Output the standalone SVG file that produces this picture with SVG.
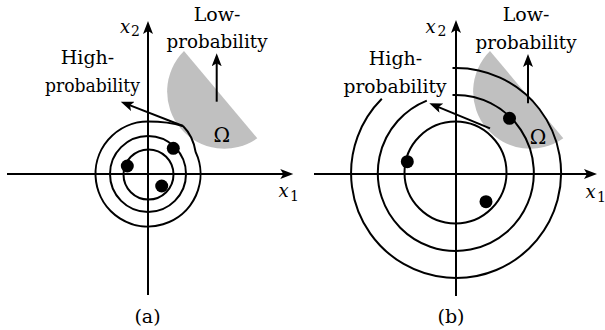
<svg xmlns="http://www.w3.org/2000/svg" width="605" height="330" viewBox="0 0 605 330">
<defs>
<style>
.ln{fill:none;stroke:#000;stroke-width:2}
.ar{fill:none;stroke:#000;stroke-width:2;marker-end:url(#ah)}
.m{text-anchor:middle}
.g{fill:#c0c0c0}
.d{fill:#000}
.t{font-family:'DejaVu Serif','Liberation Serif',serif;font-size:19px;fill:#000}
.om{font-size:20px}
.v{font-style:italic;font-size:18px}
.sb{font-size:14px}
</style>
<marker id="ah" markerUnits="userSpaceOnUse" markerWidth="14" markerHeight="10" refX="5" refY="5" orient="auto">
<path d="M0,0 L13,5 L0,10 L3,5 Z" fill="#000"/>
</marker>
<path id="omega" d="M0,0 A57.2,57.2 0 0 0 73.3,87.3 Z"/>
</defs>

<g id="panel-a">
<use href="#omega" x="184" y="51" class="g"/>
<g id="axes-a">
<line class="ar" x1="148" y1="295" x2="148" y2="29"/>
<line class="ar" x1="7" y1="174" x2="285.3" y2="174"/>
</g>
<g id="curves-a">
<circle class="ln" cx="148.5" cy="174.5" r="25"/>
<circle class="ln" cx="148" cy="174" r="38"/>
<path class="ln" d="M183,126 C170,122 158,121.5 148,121.5 A52.5,52.5 0 1 0 195.6,151.8 C194,142 189,132 183,126"/>
<line class="ar" x1="183" y1="126" x2="128.2" y2="104.6"/>
<line class="ar" x1="216.7" y1="101.7" x2="216.7" y2="61.3"/>
</g>
<g id="dots-a">
<circle class="d" cx="127.3" cy="166" r="6.5"/>
<circle class="d" cx="173.3" cy="148.3" r="6.5"/>
<circle class="d" cx="161.7" cy="186" r="6.5"/>
</g>
<g id="labels-a" class="t">
<text class="m" x="217" y="20.5">Low-</text>
<text class="m" x="217" y="47.5" textLength="101" lengthAdjust="spacingAndGlyphs">probability</text>
<text class="m" x="87.5" y="63.5">High-</text>
<text class="m" x="92.5" y="91.5" textLength="95" lengthAdjust="spacingAndGlyphs">probability</text>
<text class="m om" x="221.7" y="141.7">Ω</text>
<text class="v" x="120" y="32.5">x</text><text class="sb" x="131" y="36">2</text>
<text class="v" x="278.5" y="197">x</text><text class="sb" x="290" y="201">1</text>
<text class="m" x="147.5" y="322.5">(a)</text>
</g>
</g>

<g id="panel-b">
<use href="#omega" x="490" y="51" class="g"/>
<g id="axes-b">
<line class="ar" x1="456" y1="296" x2="456" y2="28"/>
<line class="ar" x1="314" y1="174" x2="589" y2="174"/>
</g>
<g id="curves-b">
<circle class="ln" cx="455.5" cy="172.5" r="51"/>
<path class="ln" d="M452.5,95 H456 A78,78 0 1 1 426.8,100.6"/>
<path class="ln" d="M452.5,68 H456 A105,105 0 1 1 381.8,98.8"/>
<line class="ar" x1="490" y1="128.3" x2="436.7" y2="106.3"/>
<line class="ar" x1="528" y1="103.3" x2="528" y2="62"/>
</g>
<g id="dots-b">
<circle class="d" cx="407.3" cy="161.7" r="6.5"/>
<circle class="d" cx="509.5" cy="118.3" r="6.5"/>
<circle class="d" cx="486" cy="201.7" r="6.5"/>
</g>
<g id="labels-b" class="t">
<text class="m" x="526" y="20.7">Low-</text>
<text class="m" x="526" y="49" textLength="101" lengthAdjust="spacingAndGlyphs">probability</text>
<text class="m" x="395.5" y="65">High-</text>
<text class="m" x="395" y="92.5" textLength="103" lengthAdjust="spacingAndGlyphs">probability</text>
<text class="m om" x="538" y="144">Ω</text>
<text class="v" x="425.5" y="32.5">x</text><text class="sb" x="437.5" y="36">2</text>
<text class="v" x="585.5" y="197.5">x</text><text class="sb" x="597" y="201.5">1</text>
<text class="m" x="451" y="322.5">(b)</text>
</g>
</g>
</svg>
